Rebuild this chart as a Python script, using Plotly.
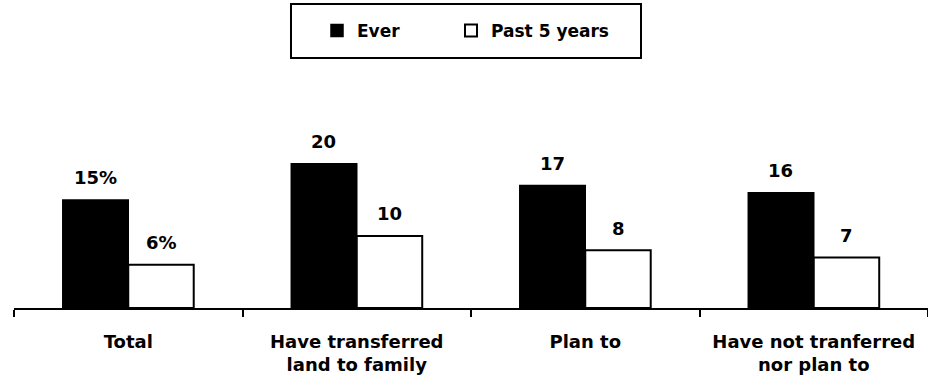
import plotly.graph_objects as go

# Share of landowners who have transferred land
categories = ["Total", "Have transferred<br>land to family", "Plan to", "Have not tranferred<br>nor plan to"]
ever = [15, 20, 17, 16]
past_5_years = [6, 10, 8, 7]
value_suffix = ["%", "", "", ""]

W, H = 928, 385
M_L, M_R, M_T, M_B = 14, 0, 135, 77
FONT = "Verdana, DejaVu Sans, sans-serif"

fig = go.Figure()
fig.add_trace(go.Bar(
    x=categories, y=ever, name="Ever", legend="legend",
    marker=dict(color="black", line=dict(color="black", width=1.5)),
))
fig.add_trace(go.Bar(
    x=categories, y=past_5_years, name="Past 5 years", legend="legend2",
    marker=dict(color="white", line=dict(color="black", width=2)),
))

# value labels above each bar
for cat, e, p, suf in zip(categories, ever, past_5_years, value_suffix):
    for val, dx in ((e, -33), (p, 33)):
        fig.add_annotation(
            x=cat, y=val, xref="x", yref="y", text=f"{val}{suf}",
            showarrow=False, xshift=dx, yshift=22, yanchor="middle",
            font=dict(family=FONT, size=18, color="black", weight="bold"),
        )

# legend frame
plot_w = W - M_L - M_R
plot_h = H - M_T - M_B
def px_x(px):
    return (px - M_L) / plot_w
def px_y(py):
    return (H - M_B - py) / plot_h

fig.add_shape(
    type="rect", xref="paper", yref="paper",
    x0=px_x(291), x1=px_x(641), y0=px_y(58), y1=px_y(4),
    line=dict(color="black", width=2), fillcolor="rgba(0,0,0,0)",
)

legend_common = dict(
    orientation="h", xref="container", yref="container",
    xanchor="left", y=1 - 31 / H, yanchor="middle",
    font=dict(family=FONT, size=17, color="black", weight="bold"),
    bgcolor="rgba(0,0,0,0)", borderwidth=0,
)

fig.update_layout(
    width=W, height=H,
    margin=dict(l=M_L, r=M_R, t=M_T, b=M_B, pad=0),
    paper_bgcolor="white", plot_bgcolor="white",
    barmode="group", bargap=0.427, bargroupgap=0,
    font=dict(family=FONT, size=18, color="black", weight="bold"),
    showlegend=True,
    legend=dict(x=317 / W, **legend_common),
    legend2=dict(x=451 / W, **legend_common),
    xaxis=dict(
        range=[-0.5, 3.5], showline=True, linecolor="black", linewidth=2,
        ticks="outside", tickson="boundaries", ticklen=7, tickwidth=2,
        tickcolor="black", showgrid=False, zeroline=False,
        ticklabelstandoff=16,
        tickfont=dict(family=FONT, size=18, color="black", weight="bold"),
    ),
    yaxis=dict(range=[0, 24], visible=False, showgrid=False, zeroline=False),
)

fig.write_html("out.html")
